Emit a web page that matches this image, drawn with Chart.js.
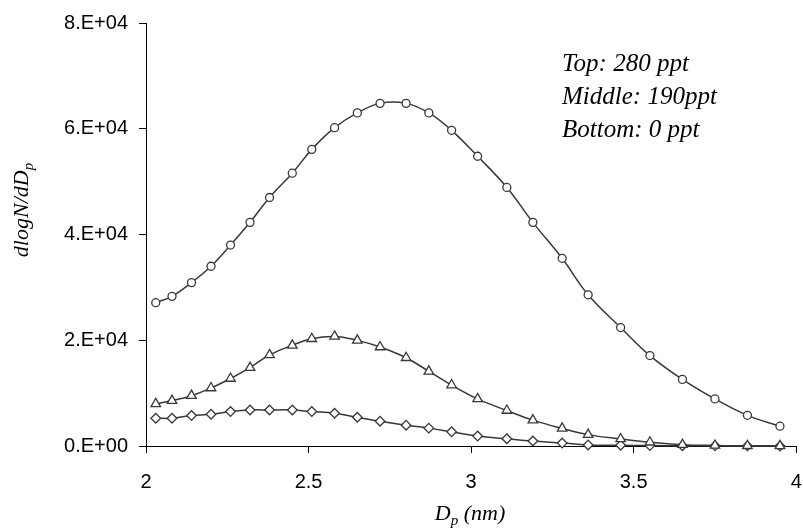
<!DOCTYPE html>
<html>
<head>
<meta charset="utf-8">
<script src="https://cdn.jsdelivr.net/npm/chart.js@4/dist/chart.umd.min.js"></script>
<style>
  html, body { margin: 0; padding: 0; background: #fff; }
  #wrap { width: 803px; height: 529px; }
</style>
</head>
<body>
<div id="wrap"><canvas id="myChart" width="803" height="529"></canvas></div>
<script>
// particle diameter (nm)
var diameters = [2.03, 2.08, 2.14, 2.20, 2.26, 2.32, 2.38, 2.45, 2.51, 2.58, 2.65, 2.72, 2.80,
                 2.87, 2.94, 3.02, 3.11, 3.19, 3.28, 3.36, 3.46, 3.55, 3.65, 3.75, 3.85, 3.95];

// dlogN/dDp for each run
var top280 = [27100, 28300, 30900, 34000, 38000, 42300, 47000, 51600, 56100, 60200, 63000, 64800, 64800,
              63000, 59700, 54800, 48900, 42300, 35500, 28600, 22400, 17100, 12600, 8900, 5800, 3750];
var middle190 = [7970, 8590, 9520, 10970, 12770, 14830, 17220, 19040, 20280, 20720, 19980, 18720, 16690,
                 14120, 11530, 8900, 6710, 4890, 3330, 2150, 1330, 710, 250, 100, 50, 30];
var bottom0 = [5250, 5250, 5760, 6000, 6510, 6810, 6810, 6810, 6510, 6190, 5440, 4690, 3940,
               3380, 2680, 1880, 1370, 940, 560, 200, 150, 80, 50, 30, 20, 10];

var xTickLabels = ["2", "2.5", "3", "3.5", "4"];
var yTickLabels = ["0.E+00", "2.E+04", "4.E+04", "6.E+04", "8.E+04"];
var noteLines = ["Top: 280 ppt", "Middle: 190ppt", "Bottom: 0 ppt"];

var lineColor = "#383838";

function toPoints(vals) {
    var pts = [];
    for (var i = 0; i < vals.length; i++) {
        pts.push({ x: diameters[i], y: vals[i] });
    }
    return pts;
}

function makeSet(label, vals, shape, radius) {
    return {
        label: label,
        data: toPoints(vals),
        borderColor: lineColor,
        borderWidth: 1.5,
        tension: 0.4,
        pointStyle: shape,
        pointRadius: radius,
        pointBorderWidth: 1.3,
        pointBorderColor: lineColor,
        pointBackgroundColor: "#fff",
        clip: false
    };
}

// draws the note and the two axis titles (they have subscripts)
var textPlugin = {
    id: "texts",
    afterDraw: function(chart) {
        var ctx = chart.ctx;
        ctx.save();
        ctx.fillStyle = "#000";
        ctx.textAlign = "left";
        ctx.textBaseline = "alphabetic";

        ctx.font = "italic 25px 'Liberation Serif'";
        for (var i = 0; i < noteLines.length; i++) {
            ctx.fillText(noteLines[i], 562, 71 + i * 33);
        }

        // x title: D_p (nm)
        var big = "italic 22px 'Liberation Serif'";
        var small = "italic 15px 'Liberation Serif'";
        ctx.font = big;
        var wD = ctx.measureText("D").width;
        var wRest = ctx.measureText(" (nm)").width;
        ctx.font = small;
        var wp = ctx.measureText("p").width;
        var total = wD + wp + wRest;
        var x0 = 470 - total / 2;
        var yb = 520;
        ctx.font = big;
        ctx.fillText("D", x0, yb);
        ctx.font = small;
        ctx.fillText("p", x0 + wD, yb + 5);
        ctx.font = big;
        ctx.fillText(" (nm)", x0 + wD + wp, yb);

        // y title: dlogN/dD_p, rotated
        ctx.translate(28, 210);
        ctx.rotate(-Math.PI / 2);
        ctx.font = big;
        var w1 = ctx.measureText("dlogN/dD").width;
        ctx.font = small;
        var w2 = ctx.measureText("p").width;
        var s = -(w1 + w2) / 2;
        ctx.font = big;
        ctx.fillText("dlogN/dD", s, 0);
        ctx.font = small;
        ctx.fillText("p", s + w1, 5);
        ctx.restore();
    }
};

var ctx = document.getElementById("myChart");
Chart.defaults.font.family = "'Liberation Sans'";
Chart.defaults.font.size = 20;
Chart.defaults.color = "#000";

var myChart = new Chart(ctx, {
    type: "line",
    data: {
        datasets: [
            makeSet("Top: 280 ppt", top280, "circle", 4),
            makeSet("Middle: 190ppt", middle190, "triangle", 5.5),
            makeSet("Bottom: 0 ppt", bottom0, "rectRot", 4.8)
        ]
    },
    options: {
        responsive: false,
        animation: false,
        layout: { padding: { top: 20, right: 6, left: 0, bottom: 0 } },
        plugins: {
            legend: { display: false },
            tooltip: { enabled: false }
        },
        scales: {
            x: {
                type: "linear",
                min: 2,
                max: 4,
                afterFit: function(scale) {
                    scale.height = 83;
                    // tick padding gets added to the side padding, undo that
                    scale.paddingLeft = 0;
                    scale.paddingRight = 6;
                },
                afterBuildTicks: function(scale) {
                    scale.ticks = [2, 2.5, 3, 3.5, 4].map(function(v) { return { value: v }; });
                },
                ticks: {
                    padding: 17,
                    maxRotation: 0,
                    callback: function(v, i) { return xTickLabels[i]; }
                },
                grid: { drawOnChartArea: false, drawTicks: true, tickLength: 7, color: "#000", lineWidth: 1 },
                border: { color: "#000", width: 1 }
            },
            y: {
                min: 0,
                max: 80000,
                afterFit: function(scale) { scale.width = 146; },
                ticks: {
                    stepSize: 20000,
                    padding: 11,
                    callback: function(v, i) { return yTickLabels[i]; }
                },
                grid: { drawOnChartArea: false, drawTicks: true, tickLength: 7, color: "#000", lineWidth: 1 },
                border: { color: "#000", width: 1 }
            }
        }
    },
    plugins: [textPlugin]
});
</script>
</body>
</html>
